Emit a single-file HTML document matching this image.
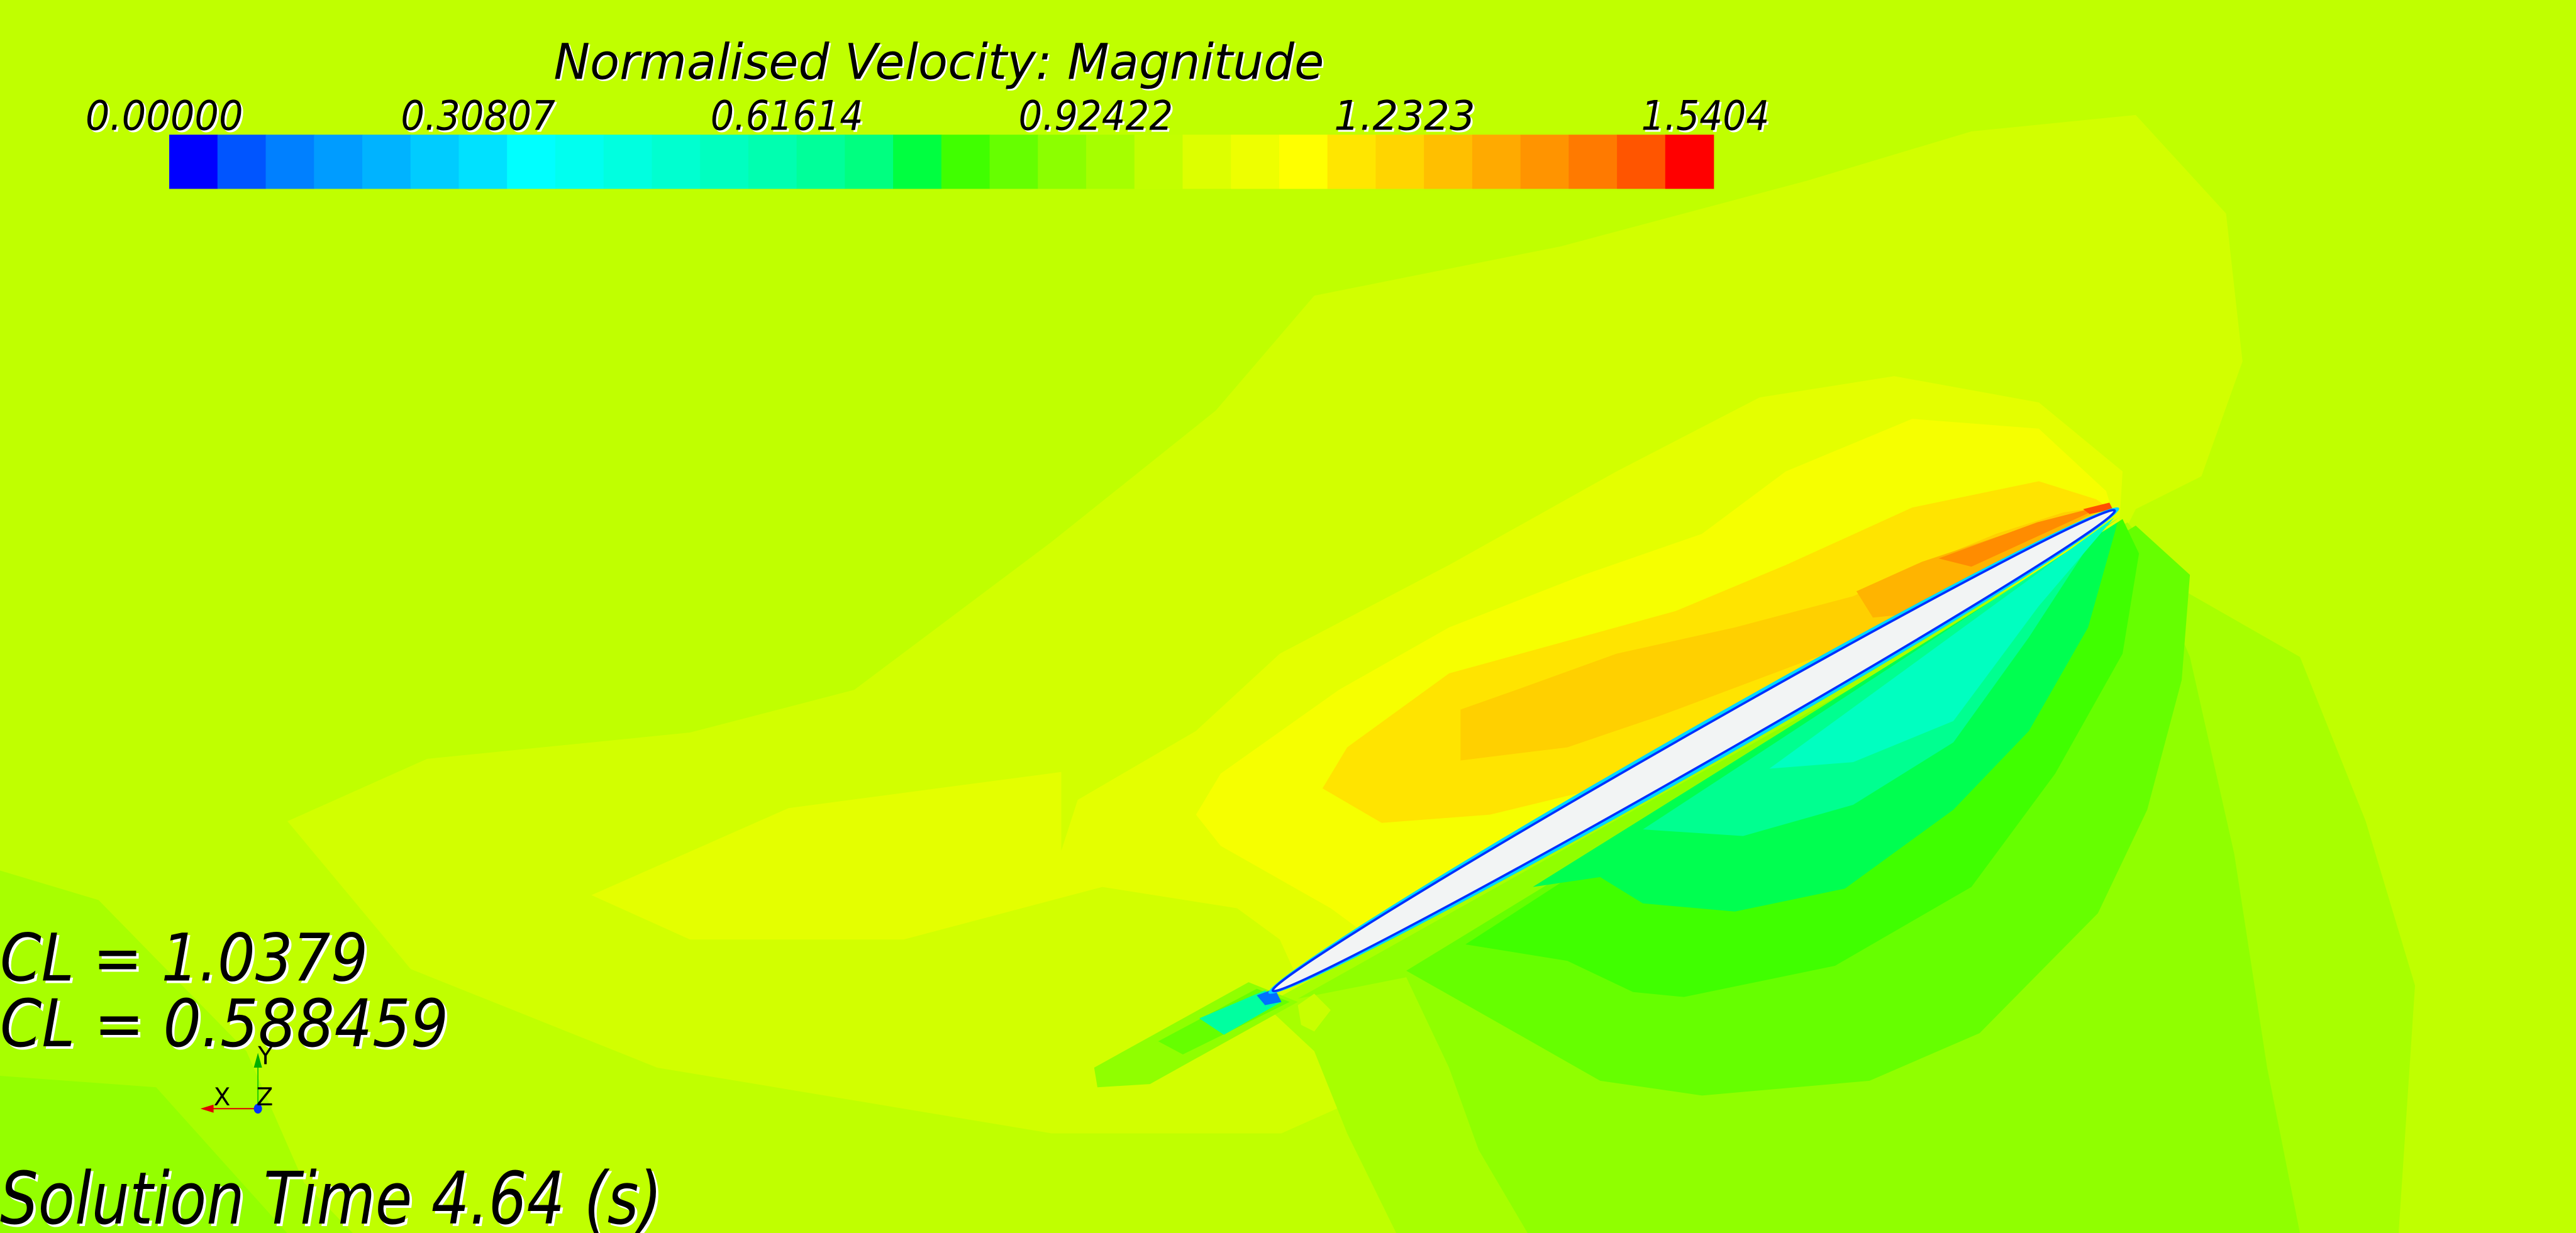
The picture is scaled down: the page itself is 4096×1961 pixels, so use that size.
<!DOCTYPE html>
<html><head><meta charset="utf-8"><style>
html,body{margin:0;padding:0;background:#c0ff00;}
svg{display:block;}
text{font-family:"DejaVu Sans","Liberation Sans",sans-serif;font-style:oblique;fill:#000;}
</style></head><body>
<svg id="scene" width="4096" height="1961" viewBox="0 0 1568 750.7" preserveAspectRatio="none" xmlns="http://www.w3.org/2000/svg">
<rect x="0" y="0" width="1568" height="751" fill="#c0ff00"/>
<g id="field"></g>
<g transform="rotate(-29.7 1031 457)">
<ellipse cx="1031" cy="457" rx="298" ry="12.5" fill="#00d8ff"/>
<ellipse cx="1031" cy="457" rx="295" ry="10" fill="#f2f4f4" stroke="#0030ff" stroke-width="1.4"/>
</g>
<g id="colorbar"></g>
<text x="338" y="49" font-size="30" textLength="469" lengthAdjust="spacingAndGlyphs" style="fill:#fff">Normalised Velocity: Magnitude</text>
<text x="337" y="48" font-size="30" textLength="469" lengthAdjust="spacingAndGlyphs">Normalised Velocity: Magnitude</text>
<g id="ticks"></g>
<g>
<text x="1.5" y="598.5" font-size="40" textLength="224" lengthAdjust="spacingAndGlyphs" style="fill:#fff">CL = 1.0379</text>
<text x="0" y="597" font-size="40" textLength="224" lengthAdjust="spacingAndGlyphs">CL = 1.0379</text>
<text x="1.5" y="638.5" font-size="40" textLength="273" lengthAdjust="spacingAndGlyphs" style="fill:#fff">CL = 0.588459</text>
<text x="0" y="637" font-size="40" textLength="273" lengthAdjust="spacingAndGlyphs">CL = 0.588459</text>
<text x="1.5" y="746.5" font-size="44" textLength="403" lengthAdjust="spacingAndGlyphs" style="fill:#fff">Solution Time 4.64 (s)</text>
<text x="0" y="745" font-size="44" textLength="403" lengthAdjust="spacingAndGlyphs">Solution Time 4.64 (s)</text>
</g>
<g>
<line x1="157" y1="675" x2="157" y2="645" stroke="#00c000" stroke-width="0.6"/>
<polygon points="154.5,650 159.5,650 157,641" fill="#00b000"/>
<line x1="157" y1="675" x2="128" y2="675" stroke="#e00000" stroke-width="0.8"/>
<polygon points="130,672.5 130,677.5 122,675" fill="#e00000"/>
<ellipse cx="157" cy="675" rx="2.5" ry="3" fill="#0030ff"/>
<text x="130" y="673" font-size="15" style="font-style:normal">X</text>
<text x="156" y="673" font-size="15" style="font-style:normal">Z</text>
<text x="157" y="648" font-size="15" style="font-style:normal">Y</text>
</g>
</svg>
<script>
const NS='http://www.w3.org/2000/svg';
// colorbar data
const cbColors=['#0000ff','#0055ff','#0080ff','#009cff','#00b3ff','#00ccff','#00e1ff','#00ffff','#00fff0','#00ffe0','#00ffd0','#00ffc0','#00ffb0','#00ff9a','#00ff80','#00ff40','#40ff00','#66ff00','#8cff00','#a6ff00','#c3ff00','#ddff00','#eeff00','#ffff00','#ffe600','#ffd500','#ffbf00','#ffaa00','#ff9400','#ff7a00','#ff5500','#ff0000'];
const tickValues=[0,0.30807,0.61614,0.92422,1.2323,1.5404];
const tickLabels=['0.00000','0.30807','0.61614','0.92422','1.2323','1.5404'];
const tickWidths=[96,94,93,94,86,78];
const vMin=0, vMax=1.5404;
const barX0=103, barX1=1043, barY=82, barH=33;
function xScale(v){return barX0+(v-vMin)/(vMax-vMin)*(barX1-barX0);}
const cb=document.getElementById('colorbar');
const bw=(barX1-barX0)/cbColors.length;
cbColors.forEach((c,i)=>{
  const r=document.createElementNS(NS,'rect');
  
  
  r.setAttribute('x',barX0+i*bw);r.setAttribute('y',barY);
  r.setAttribute('width',bw+0.3);r.setAttribute('height',barH);r.setAttribute('fill',c);
  cb.appendChild(r);
});
const tk=document.getElementById('ticks');
tickValues.forEach((v,i)=>{
  const x=xScale(v)-(i===5?5:(i===0?3:0));
  [['#fff',1.2],['#000',0]].forEach(([col,o])=>{
    const t=document.createElementNS(NS,'text');
    
    
    t.setAttribute('x',x-tickWidths[i]/2+o);t.setAttribute('y',79+o);
    t.setAttribute('font-size','25');
    t.setAttribute('textLength',tickWidths[i]);t.setAttribute('lengthAdjust','spacingAndGlyphs');
    t.style.fill=col;
    t.textContent=tickLabels[i];
    tk.appendChild(t);
  });
});
// contour regions (display coordinates)
const regions=[
 ['field-lower-left-1','#a8ff00','0,530 60,548 150,640 185,720 215,751 0,751'],
 ['field-lower-left-2','#94ff00','0,655 95,662 175,751 0,751'],
 ['field-band-1','#d2ff00','175,500 260,462 420,446 520,420 640,330 740,250 800,180 950,150 1100,110 1200,80 1300,70 1355,130 1365,220 1340,290 1300,310 1290,330 1200,560 1000,600 870,650 780,690 640,690 400,650 250,590'],
 ['field-band-2','#e4ff00','360,545 480,492 646,470 646,518 656,487 728,445 779,398 882,344 984,287 1071,242 1153,229 1241,245 1292,287 1290,320 789,594 779,572 753,553 671,540 550,572 420,572'],
 ['field-band-3','#f6ff00','728,496 743,471 815,420 882,382 964,350 1036,325 1087,287 1164,255 1241,261 1282,299 1286,312 840,575 810,553 743,515'],
 ['field-band-4','#ffe400','805,480 820,455 882,410 1020,372 1087,344 1164,309 1241,293 1276,304 1286,311 1040,458 1010,471 907,496 841,501'],
 ['field-band-5','#ffd000','889,432 923,420 984,398 1056,382 1128,363 1169,344 1215,325 1256,312 1284,308 1138,388 1010,436 954,455 889,463'],
 ['field-band-6','#ffb400','1130,360 1170,342 1230,322 1282,308 1160,374 1140,376'],
 ['field-band-7','#ff8c00','1180,340 1240,318 1283,307 1200,345'],
 ['field-band-8','#ff5000','1268,310 1284,306 1286,310 1272,313'],
 ['field-fan-a6','#a8ff00','770,612 800,640 820,690 850,751 1460,751 1470,600 1440,500 1400,400 1330,360 1295,318'],
 ['field-fan-8c','#90ff00','790,608 856,595 882,650 900,700 930,751 1400,751 1380,650 1360,520 1333,400 1300,322'],
 ['field-fan-66','#66ff00','856,591 923,629 974,658 1036,667 1138,658 1205,629 1277,556 1307,493 1328,414 1333,350 1300,320'],
 ['field-fan-40','#40ff00','892,575 954,585 994,604 1025,607 1117,588 1200,540 1251,471 1292,398 1302,337 1292,316'],
 ['field-fan-00ff60','#00ff50','933,540 974,534 1000,550 1056,555 1123,541 1189,493 1235,445 1271,382 1289,318'],
 ['field-fan-00ff90','#00ff90','1000,505 1061,509 1128,490 1189,452 1235,388 1276,325 1290,315'],
 ['field-fan-00ffc0','#00ffc0','1077,468 1128,464 1189,439 1241,369 1287,315'],
 ['field-wake-1','#90ff00','666,650 760,598 790,610 700,660 668,662'],
 ['field-wake-2','#66ff00','705,634 765,602 785,610 720,642'],
 ['field-wake-3','#00ffa0','730,620 770,603 780,610 745,630'],
 ['field-le-blue','#0070ff','765,606 776,602 780,610 770,612'],
 ['field-bubble','#c8ff00','790,612 800,605 810,615 800,628 792,624']
];
const fld=document.getElementById('field');
regions.forEach(([n,c,pts])=>{
  const p=document.createElementNS(NS,'polygon');
  
  
  p.setAttribute('points',pts);p.setAttribute('fill',c);
  fld.appendChild(p);
});
</script>
</body></html>
